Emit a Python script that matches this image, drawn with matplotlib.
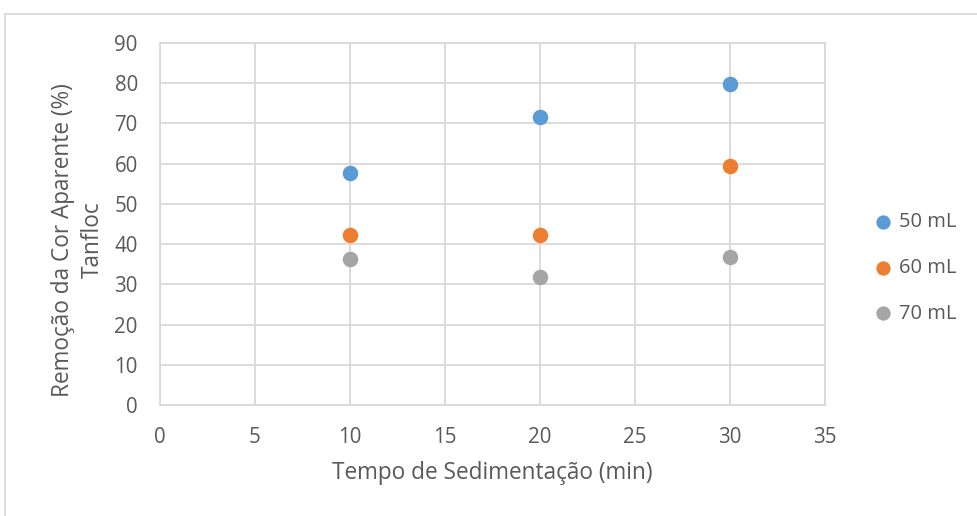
import matplotlib
matplotlib.use("Agg")
import matplotlib.pyplot as plt
from matplotlib.patches import Rectangle

plt.rcParams['font.family'] = ['Open Sans', 'DejaVu Sans']

tempo = [10, 20, 30]
series_labels = ["50 mL", "60 mL", "70 mL"]
remocao_50 = [57.6, 71.7, 79.8]
remocao_60 = [42.3, 42.3, 59.3]
remocao_70 = [36.3, 31.9, 36.8]
x_ticks = [0, 5, 10, 15, 20, 25, 30, 35]
y_ticks = [0, 10, 20, 30, 40, 50, 60, 70, 80, 90]

colors = ["#5B9BD5", "#ED7D31", "#A5A5A5"]
text_color = "#595959"
grid_color = "#D9D9D9"

W, H = 977, 516
fig = plt.figure(figsize=(W / 100, H / 100), dpi=100)

# outer chart frame
fig.patches.append(Rectangle((5 / W, -0.1), 1.2, (H - 14) / H + 0.1,
                             transform=fig.transFigure, fill=False,
                             edgecolor=grid_color, linewidth=1.3))

ax = fig.add_axes([160 / W, (H - 405) / H, (825 - 160) / W, (405 - 43) / H])

for vals, lab, c in zip([remocao_50, remocao_60, remocao_70], series_labels, colors):
    ax.scatter(tempo, vals, s=125, color=c, label=lab, zorder=3, linewidths=0)

ax.set_xlim(0, 35)
ax.set_ylim(0, 90)
ax.set_xticks(x_ticks)
ax.set_yticks(y_ticks)
ax.grid(True, color=grid_color, linewidth=1.3)
ax.set_axisbelow(True)
for s in ax.spines.values():
    s.set_color(grid_color)
    s.set_linewidth(1.3)
ax.tick_params(length=0, labelsize=14.8, labelcolor=text_color)
ax.tick_params(axis='y', pad=16)
ax.tick_params(axis='x', pad=16)

fig.text(492 / W, 1 - 473 / H, "Tempo de Sedimentação (min)", fontsize=16.3,
         color=text_color, ha="center", va="center")
fig.text(78 / W, 1 - 240 / H, "Remoção da Cor Aparente (%)\nTanfloc", fontsize=16.3,
         color=text_color, ha="center", va="center", rotation=90,
         multialignment="center", linespacing=1.3)

handles, labels = ax.get_legend_handles_labels()
fig.legend(handles, labels, loc="center left",
           bbox_to_anchor=(873 / W, 1 - 268 / H), frameon=False,
           fontsize=14.5, labelcolor=text_color, handlelength=1.0,
           handletextpad=0.3, labelspacing=1.28, markerscale=0.92,
           borderpad=0, borderaxespad=0)

fig.savefig("out.png", dpi=100)
